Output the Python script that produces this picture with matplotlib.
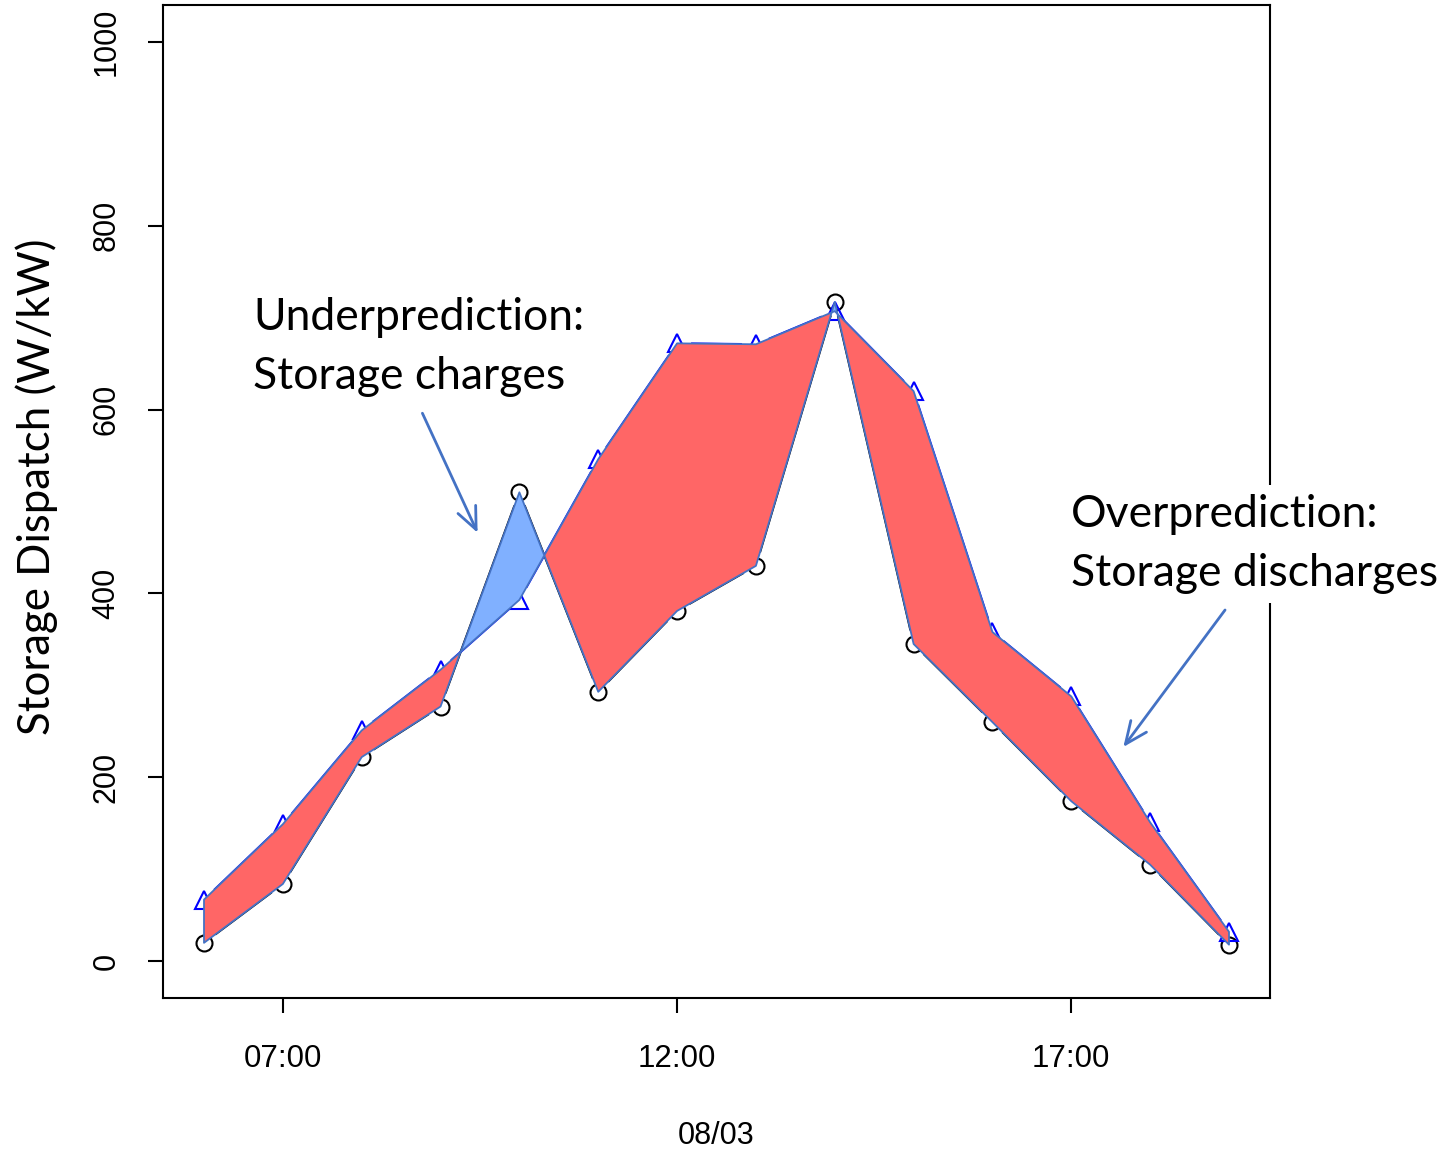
import numpy as np
import matplotlib
matplotlib.use("Agg")
from matplotlib import pyplot as plt

# hours of the day (08/03)
hours = [6, 7, 8, 9, 10, 11, 12, 13, 14, 15, 16, 17, 18, 19]
# actual dispatch (black circles)
actual = [20, 84, 222, 277, 510, 293, 381, 430, 717, 345, 260, 174, 105, 18]
# predicted dispatch (blue triangles)
predicted = [67, 149, 251, 317, 393, 546, 672, 671, 707, 620, 358, 288, 151, 32]

tick_hours = [7, 12, 17]
tick_labels = ["07:00", "12:00", "17:00"]
y_ticks = [0, 200, 400, 600, 800, 1000]

under_text = "Underprediction:\nStorage charges"
over_text = "Overprediction:\nStorage discharges"
# arrow (start, end) in data units
under_arrow = ((8.77, 596), (9.47, 466))
over_arrow = ((18.95, 382), (17.66, 233))

red = "#FF6666"
light_blue = "#80B0FF"
edge_blue = "#4472C4"

fig = plt.figure(figsize=(14.49, 11.52), dpi=100)
ax = fig.add_axes([163/1449, 1-998/1152, 1107/1449, 993/1152])
ax.set_xlim(5.48, 19.52)
ax.set_ylim(-40, 1040)

x = np.array(hours, dtype=float)
a = np.array(actual, dtype=float)
p = np.array(predicted, dtype=float)


def gapped_line(xs, ys, color, gap=14):
    # R style type="b": line segments stop short of the points
    pts = ax.transData.transform(np.column_stack([xs, ys]))
    inv = ax.transData.inverted()
    for i in range(len(pts) - 1):
        p0, p1 = pts[i], pts[i+1]
        d = p1 - p0
        L = np.hypot(*d)
        if L <= 2*gap:
            continue
        u = d / L
        seg = inv.transform(np.array([p0 + u*gap, p1 - u*gap]))
        ax.plot(seg[:, 0], seg[:, 1], color=color, lw=1.6, zorder=2,
                solid_capstyle="butt")


gapped_line(x, a, "black")
gapped_line(x, p, "#0000FF")
ax.plot(x, a, "o", mfc="none", mec="black", ms=11.5, mew=1.5, zorder=2)
ax.plot(x, p, "^", mfc="none", mec="#0000FF", ms=13, mew=1.5, zorder=2)

ax.fill_between(x, a, p, where=p >= a, interpolate=True, facecolor=red,
                edgecolor=edge_blue, lw=1.3, zorder=3)
ax.fill_between(x, a, p, where=p < a, interpolate=True, facecolor=light_blue,
                edgecolor=edge_blue, lw=1.3, zorder=3)

# axes styling (R base look)
for s in ax.spines.values():
    s.set_linewidth(1.5)
ax.set_xticks(tick_hours)
ax.set_xticklabels(tick_labels, fontsize=22.5, family="Liberation Sans")
ax.set_yticks(y_ticks)
ax.set_yticklabels([str(v) for v in y_ticks], fontsize=22,
                   family="Liberation Sans", rotation=90, va="center")
ax.tick_params(axis="x", length=11, width=1.5, pad=22)
ax.tick_params(axis="y", length=11, width=1.5, pad=19)

ax.set_xlabel("08/03", fontsize=22, family="Liberation Sans")
ax.xaxis.set_label_coords(0.5, -0.124)
ax.set_ylabel("Storage Dispatch (W/kW)", fontsize=31.5, family="Lato")
ax.yaxis.set_label_coords(-0.095, 0.515)

ax.text(253/1449, 1-347/1152, under_text, transform=fig.transFigure,
        fontsize=32, family="Lato", ha="left", va="center", linespacing=1.55,
        zorder=6)
ax.text(1071/1449, 1-544/1152, over_text, transform=fig.transFigure,
        fontsize=32, family="Lato", ha="left", va="center", linespacing=1.55,
        zorder=6, clip_on=False,
        bbox=dict(facecolor="white", edgecolor="none", pad=6))

arrow_props = dict(arrowstyle="->, head_length=0.8, head_width=0.35",
                   color=edge_blue, lw=2, mutation_scale=20, shrinkA=0, shrinkB=0)
ax.annotate("", xy=under_arrow[1], xytext=under_arrow[0],
            arrowprops=arrow_props, zorder=7)
ax.annotate("", xy=over_arrow[1], xytext=over_arrow[0],
            arrowprops=arrow_props, zorder=7)

fig.savefig("out.png", dpi=100)
